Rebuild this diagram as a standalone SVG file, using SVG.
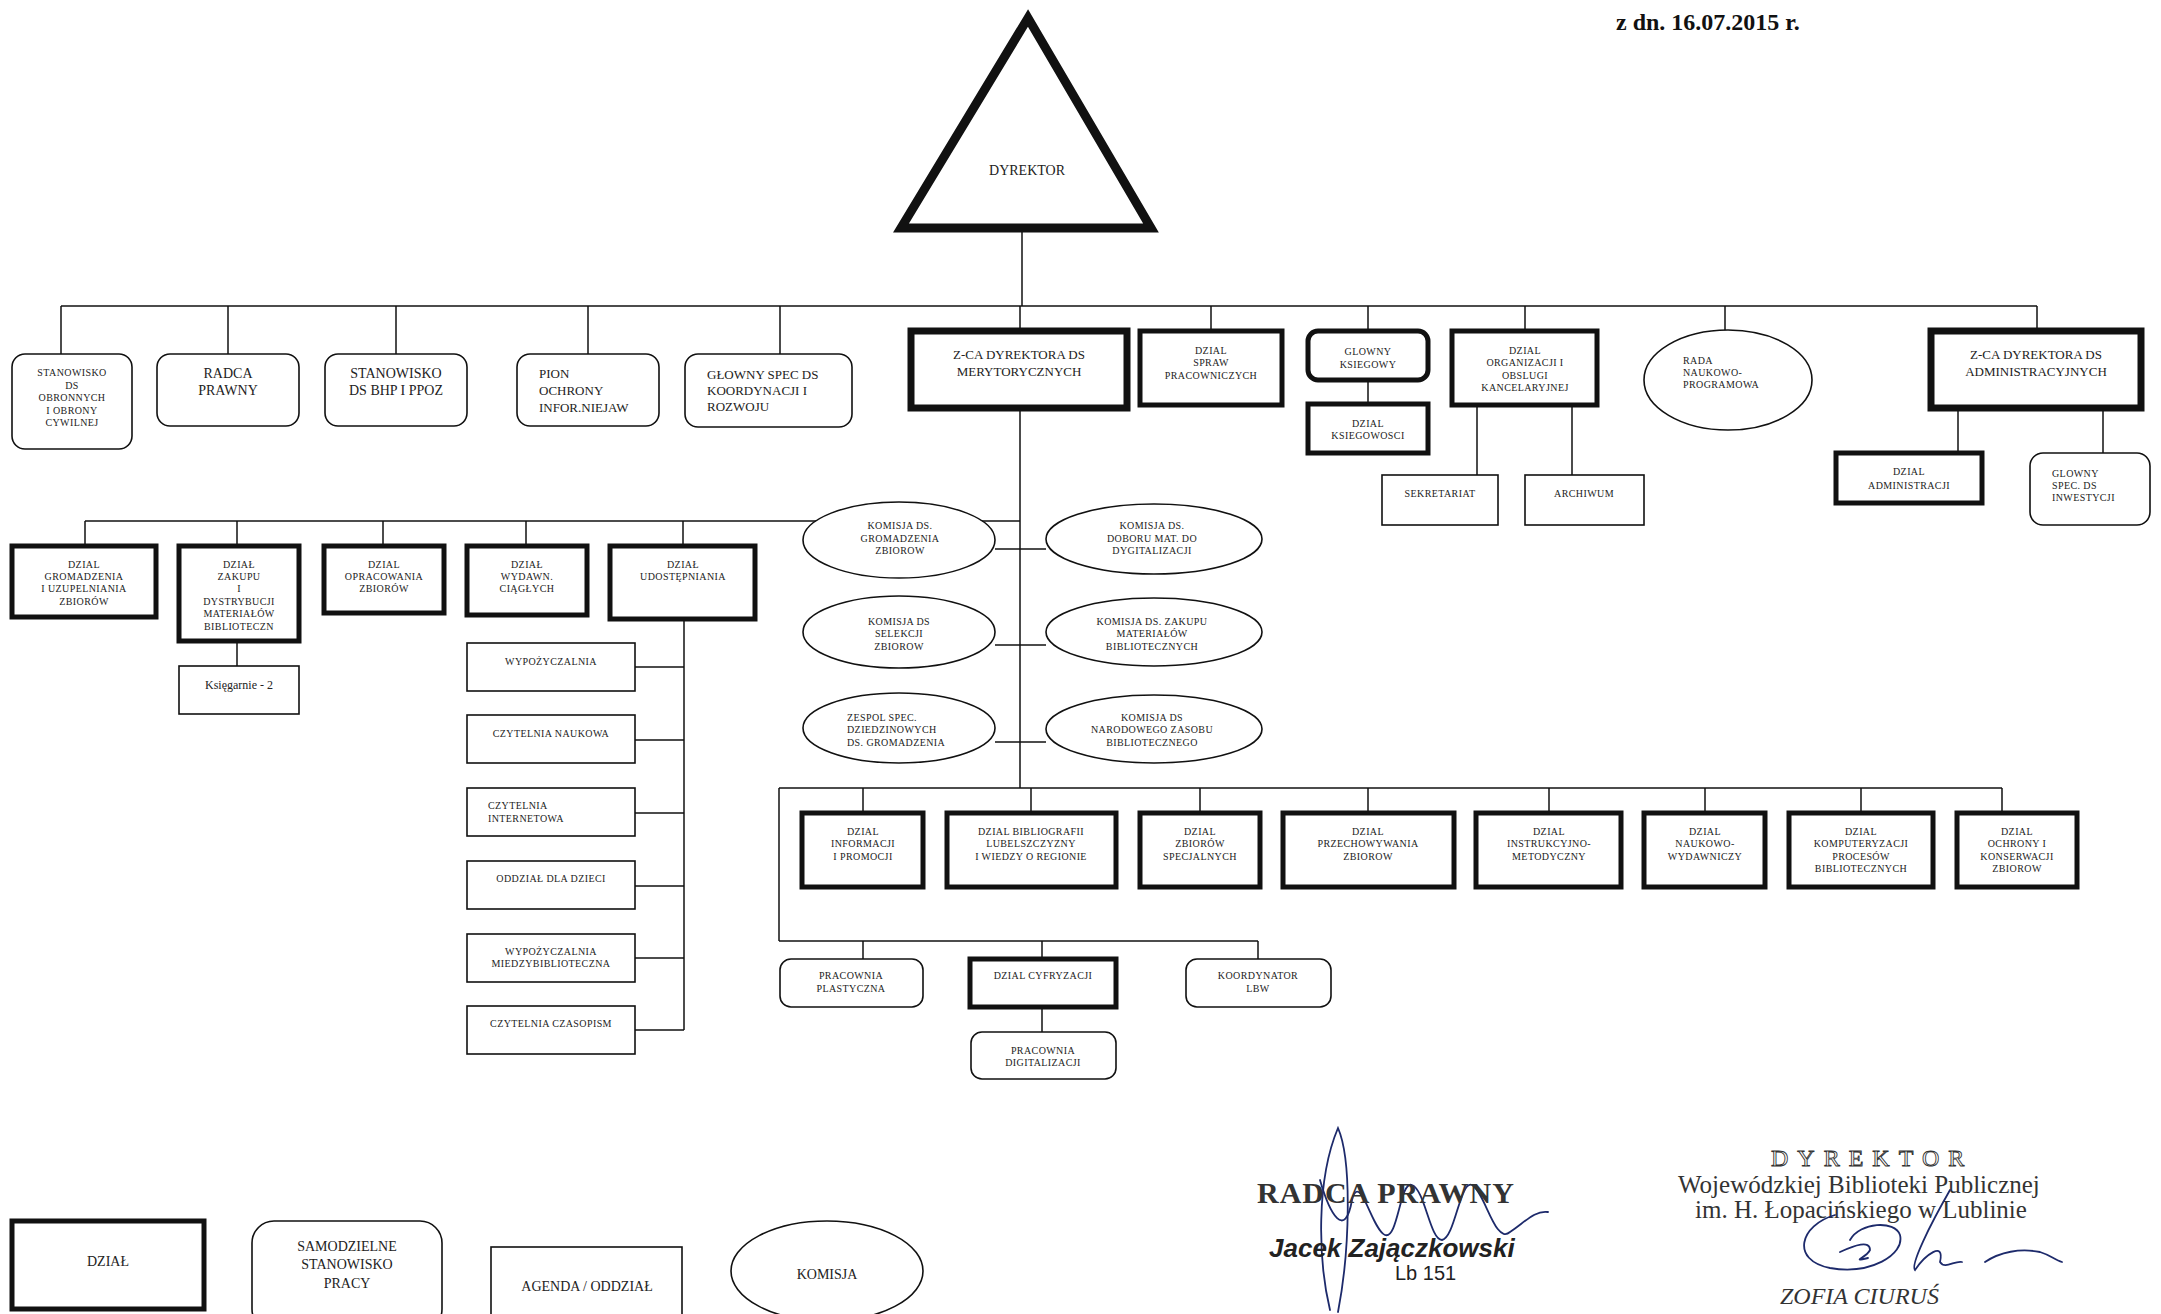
<svg xmlns="http://www.w3.org/2000/svg" width="2161" height="1314" viewBox="0 0 2161 1314">
<style>
.bg{fill:#fff}
.t{fill:#fff;stroke:#111;stroke-width:1.6}
.k{fill:#fff;stroke:#111;stroke-width:5}
.kk{fill:#fff;stroke:#111;stroke-width:7}
.c{fill:none;stroke:#111;stroke-width:1.5}
text{font-family:"Liberation Serif","Times New Roman",serif;fill:#222}
.s{font-size:10px;text-anchor:middle;letter-spacing:0.4px}
.sl{font-size:10px;letter-spacing:0.4px}
.m{font-size:13px;text-anchor:middle}
.ml{font-size:13px}
.l{font-size:14px;text-anchor:middle}
.sig{fill:none;stroke:#1d2a6b;stroke-width:1.8;stroke-linecap:round}
</style>
<rect class="bg" x="0" y="0" width="2161" height="1314"/>

<text x="1616" y="30" style="font-size:24px;font-weight:bold;fill:#111">z dn. 16.07.2015 r.</text>

<g id="connectors">
  <line class="c" x1="1022" y1="231" x2="1022" y2="306"/>
  <line class="c" x1="61" y1="306" x2="2037" y2="306"/>
  <line class="c" x1="61" y1="306" x2="61" y2="354"/>
  <line class="c" x1="228" y1="306" x2="228" y2="354"/>
  <line class="c" x1="396" y1="306" x2="396" y2="354"/>
  <line class="c" x1="588" y1="306" x2="588" y2="354"/>
  <line class="c" x1="780" y1="306" x2="780" y2="354"/>
  <line class="c" x1="1020" y1="306" x2="1020" y2="331"/>
  <line class="c" x1="1211" y1="306" x2="1211" y2="331"/>
  <line class="c" x1="1368" y1="306" x2="1368" y2="331"/>
  <line class="c" x1="1525" y1="306" x2="1525" y2="331"/>
  <line class="c" x1="1725" y1="306" x2="1725" y2="331"/>
  <line class="c" x1="2037" y1="306" x2="2037" y2="331"/>
  <line class="c" x1="1368" y1="380" x2="1368" y2="404"/>
  <line class="c" x1="1477" y1="405" x2="1477" y2="475"/>
  <line class="c" x1="1572" y1="405" x2="1572" y2="475"/>
  <line class="c" x1="1958" y1="408" x2="1958" y2="453"/>
  <line class="c" x1="2103" y1="408" x2="2103" y2="453"/>
  <line class="c" x1="1020" y1="408" x2="1020" y2="788"/>
  <line class="c" x1="85" y1="521" x2="1020" y2="521"/>
  <line class="c" x1="85" y1="521" x2="85" y2="546"/>
  <line class="c" x1="237" y1="521" x2="237" y2="546"/>
  <line class="c" x1="383" y1="521" x2="383" y2="546"/>
  <line class="c" x1="526" y1="521" x2="526" y2="546"/>
  <line class="c" x1="683" y1="521" x2="683" y2="546"/>
  <line class="c" x1="237" y1="641" x2="237" y2="666"/>
  <line class="c" x1="684" y1="619" x2="684" y2="1030"/>
  <line class="c" x1="635" y1="667" x2="684" y2="667"/>
  <line class="c" x1="635" y1="740" x2="684" y2="740"/>
  <line class="c" x1="635" y1="813" x2="684" y2="813"/>
  <line class="c" x1="635" y1="886" x2="684" y2="886"/>
  <line class="c" x1="635" y1="958" x2="684" y2="958"/>
  <line class="c" x1="635" y1="1030" x2="684" y2="1030"/>
  <line class="c" x1="995" y1="549" x2="1046" y2="549"/>
  <line class="c" x1="995" y1="645" x2="1046" y2="645"/>
  <line class="c" x1="995" y1="742" x2="1046" y2="742"/>
  <line class="c" x1="779" y1="788" x2="2002" y2="788"/>
  <line class="c" x1="863" y1="788" x2="863" y2="813"/>
  <line class="c" x1="1031" y1="788" x2="1031" y2="813"/>
  <line class="c" x1="1200" y1="788" x2="1200" y2="813"/>
  <line class="c" x1="1368" y1="788" x2="1368" y2="813"/>
  <line class="c" x1="1549" y1="788" x2="1549" y2="813"/>
  <line class="c" x1="1705" y1="788" x2="1705" y2="813"/>
  <line class="c" x1="1861" y1="788" x2="1861" y2="813"/>
  <line class="c" x1="2002" y1="788" x2="2002" y2="813"/>
  <line class="c" x1="779" y1="788" x2="779" y2="941"/>
  <line class="c" x1="779" y1="941" x2="1258" y2="941"/>
  <line class="c" x1="863" y1="941" x2="863" y2="959"/>
  <line class="c" x1="1042" y1="941" x2="1042" y2="959"/>
  <line class="c" x1="1258" y1="941" x2="1258" y2="959"/>
  <line class="c" x1="1042" y1="1007" x2="1042" y2="1032"/>
</g>

<g id="dyrektor">
  <polygon points="1028,18 901,228 1151,228" fill="#fff" stroke="#111" stroke-width="9" stroke-linejoin="miter"/>
  <text class="l" x="1027" y="175">DYREKTOR</text>
</g>

<g id="stanowisko-obronne">
  <rect class="t" x="12" y="354" width="120" height="95" rx="13"/>
  <text class="s" x="72" y="376">STANOWISKO</text>
  <text class="s" x="72" y="389">DS</text>
  <text class="s" x="72" y="401">OBRONNYCH</text>
  <text class="s" x="72" y="414">I OBRONY</text>
  <text class="s" x="72" y="426">CYWILNEJ</text>
</g>
<g id="radca-prawny">
  <rect class="t" x="157" y="354" width="142" height="72" rx="13"/>
  <text class="l" x="228" y="378">RADCA</text>
  <text class="l" x="228" y="395">PRAWNY</text>
</g>
<g id="stanowisko-bhp">
  <rect class="t" x="325" y="354" width="142" height="72" rx="13"/>
  <text class="l" x="396" y="378">STANOWISKO</text>
  <text class="l" x="396" y="395">DS  BHP I PPOZ</text>
</g>
<g id="pion-ochrony">
  <rect class="t" x="517" y="354" width="142" height="72" rx="13"/>
  <text class="ml" x="539" y="378">PION</text>
  <text class="ml" x="539" y="395">OCHRONY</text>
  <text class="ml" x="539" y="412">INFOR.NIEJAW</text>
</g>
<g id="glowny-spec-koordynacji">
  <rect class="t" x="685" y="354" width="167" height="73" rx="13"/>
  <text class="ml" x="707" y="379">GŁOWNY SPEC  DS</text>
  <text class="ml" x="707" y="395">KOORDYNACJI I</text>
  <text class="ml" x="707" y="411">ROZWOJU</text>
</g>
<g id="zca-merytoryczny">
  <rect class="kk" x="911" y="331" width="216" height="77"/>
  <text class="m" x="1019" y="359">Z-CA DYREKTORA DS</text>
  <text class="m" x="1019" y="376">MERYTORYCZNYCH</text>
</g>
<g id="dzial-spraw-pracowniczych">
  <rect class="k" x="1140" y="331" width="142" height="74"/>
  <text class="s" x="1211" y="354">DZIAL</text>
  <text class="s" x="1211" y="366">SPRAW</text>
  <text class="s" x="1211" y="379">PRACOWNICZYCH</text>
</g>
<g id="glowny-ksiegowy">
  <rect class="k" x="1308" y="331" width="120" height="49" rx="10"/>
  <text class="s" x="1368" y="355">GLOWNY</text>
  <text class="s" x="1368" y="368">KSIEGOWY</text>
</g>
<g id="dzial-ksiegowosci">
  <rect class="k" x="1308" y="404" width="120" height="49"/>
  <text class="s" x="1368" y="427">DZIAL</text>
  <text class="s" x="1368" y="439">KSIEGOWOSCI</text>
</g>
<g id="dzial-organizacji">
  <rect class="k" x="1452" y="331" width="145" height="74"/>
  <text class="s" x="1525" y="354">DZIAL</text>
  <text class="s" x="1525" y="366">ORGANIZACJI I</text>
  <text class="s" x="1525" y="379">OBSLUGI</text>
  <text class="s" x="1525" y="391">KANCELARYJNEJ</text>
</g>
<g id="sekretariat">
  <rect class="t" x="1382" y="475" width="116" height="50"/>
  <text class="s" x="1440" y="497">SEKRETARIAT</text>
</g>
<g id="archiwum">
  <rect class="t" x="1525" y="475" width="119" height="50"/>
  <text class="s" x="1584" y="497">ARCHIWUM</text>
</g>
<g id="rada-naukowo-programowa">
  <ellipse class="t" cx="1728" cy="380" rx="84" ry="50"/>
  <text class="sl" x="1683" y="364">RADA</text>
  <text class="sl" x="1683" y="376">NAUKOWO-</text>
  <text class="sl" x="1683" y="388">PROGRAMOWA</text>
</g>
<g id="zca-administracyjny">
  <rect class="kk" x="1931" y="331" width="210" height="77"/>
  <text class="m" x="2036" y="359">Z-CA DYREKTORA DS</text>
  <text class="m" x="2036" y="376">ADMINISTRACYJNYCH</text>
</g>
<g id="dzial-administracji">
  <rect class="k" x="1836" y="453" width="146" height="50"/>
  <text class="s" x="1909" y="475">DZIAL</text>
  <text class="s" x="1909" y="489">ADMINISTRACJI</text>
</g>
<g id="glowny-spec-inwestycji">
  <rect class="t" x="2030" y="453" width="120" height="72" rx="13"/>
  <text class="sl" x="2052" y="477">GLOWNY</text>
  <text class="sl" x="2052" y="489">SPEC. DS</text>
  <text class="sl" x="2052" y="501">INWESTYCJI</text>
</g>

<g id="dzial-gromadzenia">
  <rect class="k" x="12" y="546" width="144" height="71"/>
  <text class="s" x="84" y="568">DZIAL</text>
  <text class="s" x="84" y="580">GROMADZENIA</text>
  <text class="s" x="84" y="592">I UZUPELNIANIA</text>
  <text class="s" x="84" y="605">ZBIORÓW</text>
</g>
<g id="dzial-zakupu">
  <rect class="k" x="179" y="546" width="120" height="95"/>
  <text class="s" x="239" y="568">DZIAŁ</text>
  <text class="s" x="239" y="580">ZAKUPU</text>
  <text class="s" x="239" y="592">I</text>
  <text class="s" x="239" y="605">DYSTRYBUCJI</text>
  <text class="s" x="239" y="617">MATERIAŁÓW</text>
  <text class="s" x="239" y="630">BIBLIOTECZN</text>
</g>
<g id="ksiegarnie">
  <rect class="t" x="179" y="666" width="120" height="48"/>
  <text x="239" y="689" style="font-size:12px;text-anchor:middle">Księgarnie - 2</text>
</g>
<g id="dzial-opracowania">
  <rect class="k" x="324" y="546" width="120" height="67"/>
  <text class="s" x="384" y="568">DZIAL</text>
  <text class="s" x="384" y="580">OPRACOWANIA</text>
  <text class="s" x="384" y="592">ZBIORÓW</text>
</g>
<g id="dzial-wydawn-ciaglych">
  <rect class="k" x="467" y="546" width="120" height="69"/>
  <text class="s" x="527" y="568">DZIAŁ</text>
  <text class="s" x="527" y="580">WYDAWN.</text>
  <text class="s" x="527" y="592">CIĄGŁYCH</text>
</g>
<g id="dzial-udostepniania">
  <rect class="k" x="610" y="546" width="145" height="73"/>
  <text class="s" x="683" y="568">DZIAŁ</text>
  <text class="s" x="683" y="580">UDOSTĘPNIANIA</text>
</g>
<g id="wypozyczalnia">
  <rect class="t" x="467" y="643" width="168" height="48"/>
  <text class="s" x="551" y="665">WYPOŻYCZALNIA</text>
</g>
<g id="czytelnia-naukowa">
  <rect class="t" x="467" y="715" width="168" height="48"/>
  <text class="s" x="551" y="737">CZYTELNIA NAUKOWA</text>
</g>
<g id="czytelnia-internetowa">
  <rect class="t" x="467" y="788" width="168" height="48"/>
  <text class="sl" x="488" y="809">CZYTELNIA</text>
  <text class="sl" x="488" y="822">INTERNETOWA</text>
</g>
<g id="oddzial-dla-dzieci">
  <rect class="t" x="467" y="861" width="168" height="48"/>
  <text class="s" x="551" y="882">ODDZIAŁ DLA DZIECI</text>
</g>
<g id="wypozyczalnia-miedzybiblioteczna">
  <rect class="t" x="467" y="934" width="168" height="48"/>
  <text class="s" x="551" y="955">WYPOŻYCZALNIA</text>
  <text class="s" x="551" y="967">MIEDZYBIBLIOTECZNA</text>
</g>
<g id="czytelnia-czasopism">
  <rect class="t" x="467" y="1006" width="168" height="48"/>
  <text class="s" x="551" y="1027">CZYTELNIA CZASOPISM</text>
</g>

<g id="komisja-gromadzenia">
  <ellipse class="t" cx="899" cy="540" rx="96" ry="38"/>
  <text class="s" x="900" y="529">KOMISJA  DS.</text>
  <text class="s" x="900" y="542">GROMADZENIA</text>
  <text class="s" x="900" y="554">ZBIOROW</text>
</g>
<g id="komisja-doboru">
  <ellipse class="t" cx="1154" cy="539" rx="108" ry="35"/>
  <text class="s" x="1152" y="529">KOMISJA DS.</text>
  <text class="s" x="1152" y="542">DOBORU MAT. DO</text>
  <text class="s" x="1152" y="554">DYGITALIZACJI</text>
</g>
<g id="komisja-selekcji">
  <ellipse class="t" cx="899" cy="632" rx="96" ry="36"/>
  <text class="s" x="899" y="625">KOMISJA DS</text>
  <text class="s" x="899" y="637">SELEKCJI</text>
  <text class="s" x="899" y="650">ZBIOROW</text>
</g>
<g id="komisja-zakupu">
  <ellipse class="t" cx="1154" cy="632" rx="108" ry="34"/>
  <text class="s" x="1152" y="625">KOMISJA DS. ZAKUPU</text>
  <text class="s" x="1152" y="637">MATERIAŁÓW</text>
  <text class="s" x="1152" y="650">BIBLIOTECZNYCH</text>
</g>
<g id="zespol-spec">
  <ellipse class="t" cx="899" cy="728" rx="96" ry="35"/>
  <text class="sl" x="847" y="721">ZESPOL SPEC.</text>
  <text class="sl" x="847" y="733">DZIEDZINOWYCH</text>
  <text class="sl" x="847" y="746">DS. GROMADZENIA</text>
</g>
<g id="komisja-nzb">
  <ellipse class="t" cx="1154" cy="729" rx="108" ry="34"/>
  <text class="s" x="1152" y="721">KOMISJA DS</text>
  <text class="s" x="1152" y="733">NARODOWEGO ZASOBU</text>
  <text class="s" x="1152" y="746">BIBLIOTECZNEGO</text>
</g>

<g id="dzial-informacji">
  <rect class="k" x="802" y="813" width="121" height="74"/>
  <text class="s" x="863" y="835">DZIAL</text>
  <text class="s" x="863" y="847">INFORMACJI</text>
  <text class="s" x="863" y="860">I PROMOCJI</text>
</g>
<g id="dzial-bibliografii">
  <rect class="k" x="947" y="813" width="169" height="74"/>
  <text class="s" x="1031" y="835">DZIAL BIBLIOGRAFII</text>
  <text class="s" x="1031" y="847">LUBELSZCZYZNY</text>
  <text class="s" x="1031" y="860">I WIEDZY O REGIONIE</text>
</g>
<g id="dzial-zbiorow-specjalnych">
  <rect class="k" x="1140" y="813" width="120" height="74"/>
  <text class="s" x="1200" y="835">DZIAL</text>
  <text class="s" x="1200" y="847">ZBIORÓW</text>
  <text class="s" x="1200" y="860">SPECJALNYCH</text>
</g>
<g id="dzial-przechowywania">
  <rect class="k" x="1283" y="813" width="171" height="74"/>
  <text class="s" x="1368" y="835">DZIAL</text>
  <text class="s" x="1368" y="847">PRZECHOWYWANIA</text>
  <text class="s" x="1368" y="860">ZBIOROW</text>
</g>
<g id="dzial-instrukcyjno">
  <rect class="k" x="1476" y="813" width="145" height="74"/>
  <text class="s" x="1549" y="835">DZIAL</text>
  <text class="s" x="1549" y="847">INSTRUKCYJNO-</text>
  <text class="s" x="1549" y="860">METODYCZNY</text>
</g>
<g id="dzial-naukowo-wydawniczy">
  <rect class="k" x="1644" y="813" width="121" height="74"/>
  <text class="s" x="1705" y="835">DZIAL</text>
  <text class="s" x="1705" y="847">NAUKOWO-</text>
  <text class="s" x="1705" y="860">WYDAWNICZY</text>
</g>
<g id="dzial-komputeryzacji">
  <rect class="k" x="1789" y="813" width="144" height="74"/>
  <text class="s" x="1861" y="835">DZIAL</text>
  <text class="s" x="1861" y="847">KOMPUTERYZACJI</text>
  <text class="s" x="1861" y="860">PROCESÓW</text>
  <text class="s" x="1861" y="872">BIBLIOTECZNYCH</text>
</g>
<g id="dzial-ochrony">
  <rect class="k" x="1957" y="813" width="120" height="74"/>
  <text class="s" x="2017" y="835">DZIAL</text>
  <text class="s" x="2017" y="847">OCHRONY I</text>
  <text class="s" x="2017" y="860">KONSERWACJI</text>
  <text class="s" x="2017" y="872">ZBIOROW</text>
</g>

<g id="pracownia-plastyczna">
  <rect class="t" x="780" y="959" width="143" height="48" rx="11"/>
  <text class="s" x="851" y="979">PRACOWNIA</text>
  <text class="s" x="851" y="992">PLASTYCZNA</text>
</g>
<g id="dzial-cyfryzacji">
  <rect class="k" x="970" y="959" width="146" height="48"/>
  <text class="s" x="1043" y="979">DZIAL CYFRYZACJI</text>
</g>
<g id="pracownia-digitalizacji">
  <rect class="t" x="971" y="1032" width="145" height="47" rx="11"/>
  <text class="s" x="1043" y="1054">PRACOWNIA</text>
  <text class="s" x="1043" y="1066">DIGITALIZACJI</text>
</g>
<g id="koordynator-lbw">
  <rect class="t" x="1186" y="959" width="145" height="48" rx="11"/>
  <text class="s" x="1258" y="979">KOORDYNATOR</text>
  <text class="s" x="1258" y="992">LBW</text>
</g>

<g id="legend">
  <rect class="k" x="12" y="1221" width="192" height="88"/>
  <text class="l" x="108" y="1266">DZIAŁ</text>
  <rect class="t" x="252" y="1221" width="190" height="110" rx="22"/>
  <text class="l" x="347" y="1251">SAMODZIELNE</text>
  <text class="l" x="347" y="1269">STANOWISKO</text>
  <text class="l" x="347" y="1288">PRACY</text>
  <rect class="t" x="491" y="1247" width="191" height="90"/>
  <text class="l" x="587" y="1291">AGENDA / ODDZIAŁ</text>
  <ellipse class="t" cx="827" cy="1271" rx="96" ry="50"/>
  <text class="l" x="827" y="1279">KOMISJA</text>
</g>

<g id="signatures">
  <path class="sig" d="M1330,1310 C1318,1260 1316,1180 1338,1128 C1352,1160 1350,1250 1338,1312"/>
  <path class="sig" d="M1320,1180 C1330,1215 1345,1240 1352,1200 C1360,1170 1372,1230 1385,1235 C1398,1240 1400,1180 1412,1185 C1425,1190 1430,1240 1442,1240 C1455,1238 1460,1180 1472,1185 C1485,1192 1495,1245 1510,1232 C1525,1222 1535,1210 1548,1212"/>
  <text x="1257" y="1203" style="font-size:30px;font-weight:bold;letter-spacing:1px;fill:#333">RADCA PRAWNY</text>
  <text x="1269" y="1257" style="font-family:'Liberation Sans',Arial,sans-serif;font-size:26px;font-style:italic;font-weight:bold;fill:#222">Jacek Zajączkowski</text>
  <text x="1395" y="1280" style="font-family:'Liberation Sans',Arial,sans-serif;font-size:20px;fill:#222">Lb 151</text>
  <text x="1771" y="1166" style="font-size:24px;letter-spacing:9px;fill:#fff;stroke:#333;stroke-width:0.9">DYREKTOR</text>
  <text x="1678" y="1193" style="font-size:25px;fill:#333">Wojewódzkiej Biblioteki Publicznej</text>
  <text x="1695" y="1218" style="font-size:25px;fill:#333">im. H. Łopacińskiego w Lublinie</text>
  <path class="sig" d="M1835,1215 C1800,1225 1790,1260 1830,1268 C1870,1275 1905,1255 1900,1235 C1895,1220 1860,1222 1850,1240"/>
  <path class="sig" d="M1840,1252 C1855,1245 1870,1240 1870,1250 C1866,1258 1850,1262 1868,1258"/>
  <path class="sig" d="M1950,1190 C1930,1225 1910,1265 1915,1270 C1925,1255 1945,1240 1940,1262 C1945,1270 1955,1260 1962,1262"/>
  <path class="sig" d="M1985,1262 C2000,1252 2020,1248 2040,1252 C2050,1255 2055,1260 2062,1262"/>
  <text x="1780" y="1304" style="font-size:24px;font-style:italic;fill:#333">ZOFIA CIURUŚ</text>
</g>
</svg>
